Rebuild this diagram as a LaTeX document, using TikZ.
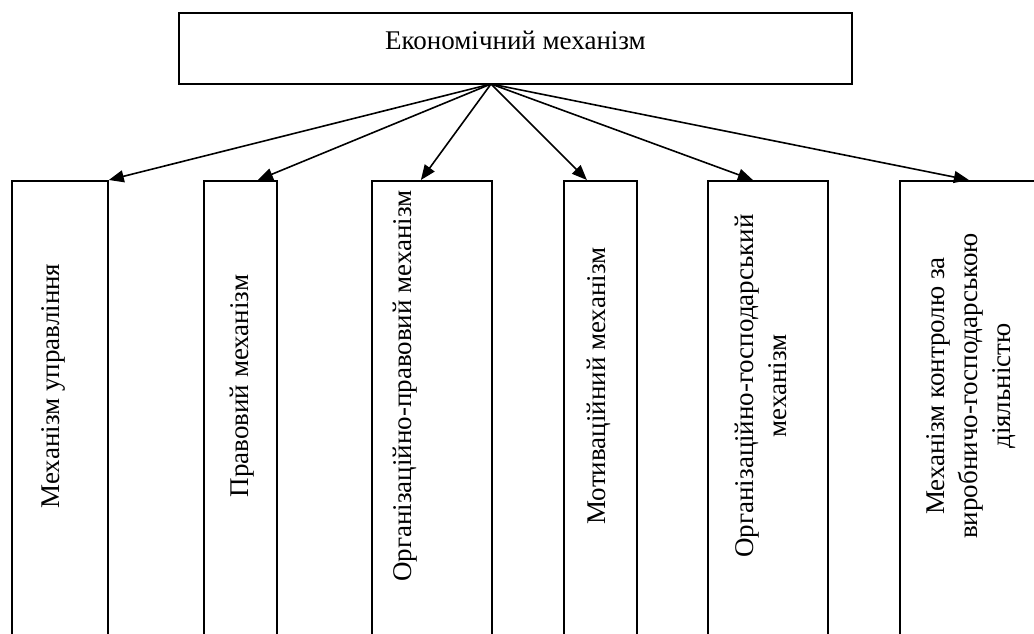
\documentclass[tikz,border=0pt]{standalone}
\usepackage{fontspec}
\setmainfont{Liberation Serif}
\usetikzlibrary{arrows.meta}

\begin{document}
\begin{tikzpicture}[x=1pt, y=-1pt,
	every node/.style={font=\fontsize{27}{33}\selectfont},
	mainbox/.style={draw, line width=1.8pt, minimum width=673pt, minimum height=71pt, text depth=17pt, inner sep=0pt},
	subbox/.style={draw, line width=1.8pt, anchor=north west, minimum height=520pt, inner sep=0pt},
	vtext/.style={rotate=90, align=center, inner sep=0pt},
	link/.style={line width=1.6pt, -{Triangle[length=15pt, width=12pt]}}]
			\useasboundingbox (0,0) rectangle (1034,634);
			
			% Define boxes
			\node[mainbox] (econ) at (515.5,48.5) {Економічний механізм};
			\coordinate (hub) at (491,84);
			
			\node[subbox, minimum width=96pt] (b1) at (11,180) {};
			\node[subbox, minimum width=73pt] (b2) at (203,180) {};
			\node[subbox, minimum width=120pt] (b3) at (371,180) {};
			\node[subbox, minimum width=73pt] (b4) at (563,180) {};
			\node[subbox, minimum width=120pt] (b5) at (707,180) {};
			\node[subbox, minimum width=138pt] (b6) at (899,180) {};
			
			% Texts in the boxes
			\node[vtext] (t1) at (53,386) {Механізм управління};
			\node[vtext] (t2) at (242,386) {Правовий механізм};
			\node[vtext] (t3) at (405,386) {Організаційно-правовий механізм};
			\node[vtext] (t4) at (599,386) {Мотиваційний механізм};
			\node[vtext] (t5) at (761,386) {Організаційно-господарський\\механізм};
			\node[vtext] (t6) at (971,386) {Механізм контролю за\\виробничо-господарською\\діяльністю};
			
			% Draw arrows from the hub
			\draw[link] (hub) to (b1.north east);
			\draw[link] (hub) to ([xshift=17.5pt]b2.north);
			\draw[link] (hub) to ([xshift=-11pt]b3.north);
			\draw[link] (hub) to ([xshift=-13.5pt]b4.north);
			\draw[link] (hub) to ([xshift=-15pt]b5.north);
			\draw[link] (hub) to (b6.north);
		\end{tikzpicture}
\end{document}
